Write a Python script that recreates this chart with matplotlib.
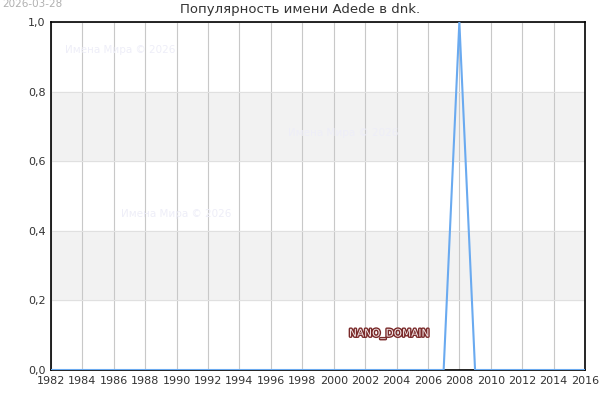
import matplotlib
matplotlib.use('Agg')
import matplotlib.pyplot as plt
import matplotlib.patheffects as pe

# Data: popularity of the name per year
years = list(range(1982, 2017))
values = [0.0] * len(years)
values[years.index(2008)] = 1.0

x_ticks = list(range(1982, 2017, 2))
y_ticks = [0.0, 0.2, 0.4, 0.6, 0.8, 1.0]
y_labels = ['0,0', '0,2', '0,4', '0,6', '0,8', '1,0']
bands = [(0.2, 0.4), (0.6, 0.8)]

fig = plt.figure(figsize=(6, 4), dpi=100)
ax = fig.add_axes([51 / 600, 30 / 400, 534 / 600, 348 / 400])

for lo, hi in bands:
    ax.axhspan(lo, hi, color='#f2f2f2', zorder=0)

for x in x_ticks:
    ax.axvline(x, color='#c8c8c8', linewidth=0.8, zorder=1)
for y in y_ticks:
    ax.axhline(y, color='#e0e0e0', linewidth=0.8, zorder=1)

ax.plot(years, values, color='#6aaaf0', linewidth=1.5, zorder=3)

ax.set_xlim(1982, 2016)
ax.set_ylim(0, 1)
ax.set_xticks(x_ticks)
ax.set_yticks(y_ticks)
ax.set_yticklabels(y_labels)
ax.tick_params(labelsize=8, colors='#333333', length=0, pad=4)
for s in ax.spines.values():
    s.set_color('black')
    s.set_linewidth(1.2)

fig.text(0.5, 1 - 10 / 400, 'Популярность имени Adede в dnk.', fontsize=9.5,
         color='#333333', ha='center', va='center')

# watermarks
wm = dict(fontsize=7.5, color='#eeeef8', zorder=2)
fig.text(65 / 600, 1 - 50 / 400, 'Имена Мира © 2026', va='center', **wm)
fig.text(288 / 600, 1 - 133 / 400, 'Имена Мира © 2026', va='center', **wm)
fig.text(121 / 600, 1 - 214 / 400, 'Имена Мира © 2026', va='center', **wm)

fig.text(349 / 600, 1 - 334 / 400, 'NANO_DOMAIN', fontsize=7.6, color='#f4e8e8', va='center',
         path_effects=[pe.withStroke(linewidth=2, foreground='#7a2a2a')])

fig.text(2 / 600, 1 - 4 / 400, '2026-03-28', fontsize=7.5, color='#b0b0b0', va='center')

fig.savefig('out.png', dpi=100)
